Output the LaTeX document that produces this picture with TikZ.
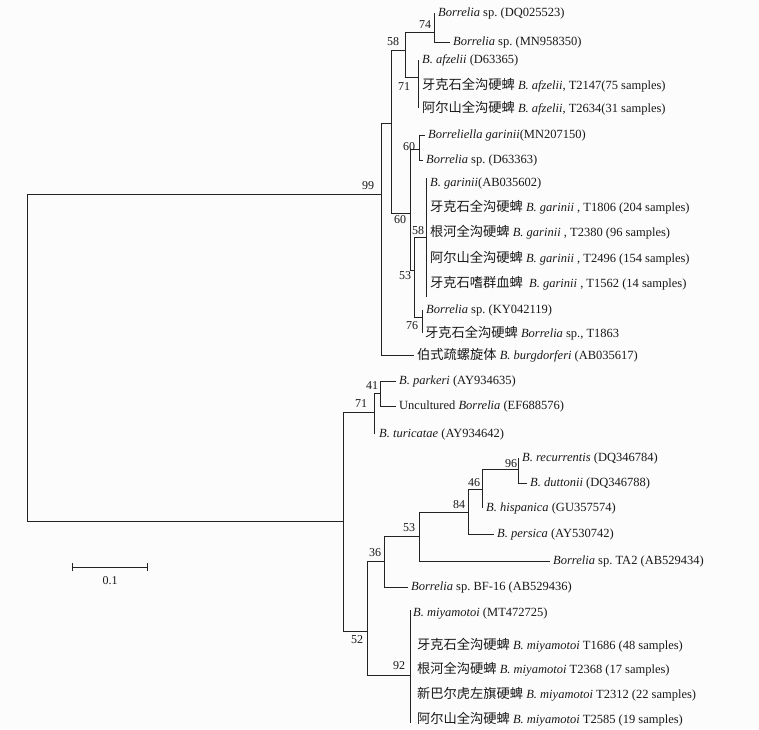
\documentclass[tikz,border=0pt]{standalone}
\usepackage{fontspec}
\setmainfont{Liberation Serif}
\newfontfamily\cjkfont{Noto Sans CJK SC}[Scale=1.06]
\newcommand\zhtext[1]{{\cjkfont #1}}
\definecolor{ln}{RGB}{35,35,35}
\definecolor{bgc}{RGB}{252,252,252}
\frenchspacing
\begin{document}
\begin{tikzpicture}[x=1pt,y=-1pt,
  br/.style={draw=ln,line width=0.85pt},
  leaf/.style={anchor=west,inner xsep=3pt,inner ysep=1pt,font=\fontsize{12.5}{14}\selectfont,text=black!90},
  leafz/.style={leaf,inner xsep=4pt},
  bs/.style={font=\fontsize{12}{14}\selectfont,inner sep=0pt,text=black!90}]
\fill[bgc] (0,0) rectangle (759,729);
\useasboundingbox (0,0) rectangle (759,729);

% internal nodes (x of vertical, y of connection to parent)
\coordinate (R) at (27,357);
\coordinate (n99) at (381,194);
\coordinate (nA) at (391,123);
\coordinate (n58a) at (405,50);
\coordinate (n74) at (434,32);
\coordinate (n71a) at (418,77);
\coordinate (n60b) at (410,213);
\coordinate (n60a) at (419,149);
\coordinate (n53a) at (414,270);
\coordinate (n58b) at (426,237);
\coordinate (n76) at (422,317);
\coordinate (nB) at (343,521);
\coordinate (n71b) at (374,412);
\coordinate (n41) at (380,393);
\coordinate (n52) at (367,631);
\coordinate (n36) at (384,561);
\coordinate (n53b) at (419,536);
\coordinate (n84) at (468,512);
\coordinate (n46) at (482,489);
\coordinate (n96) at (518,469);
\coordinate (n92) at (410,675);
\coordinate (gtop) at (426,178);
\coordinate (gbot) at (426,297);
\coordinate (mtop) at (410,610);
\coordinate (mbot) at (410,723);

% leaves
\node[leafz] (L1) at (434,13) {\textit{Borrelia} sp. (DQ025523)};
\node[leaf] (L2) at (450,42) {\textit{Borrelia} sp. (MN958350)};
\node[leafz] (L3) at (418,60) {\textit{B. afzelii} (D63365)};
\node[leafz] (L4) at (418,85) {\zhtext{牙克石全沟硬蜱} \textit{B. afzelii}, T2147(75 samples)};
\node[leafz] (L5) at (418,108) {\zhtext{阿尔山全沟硬蜱} \textit{B. afzelii}, T2634(31 samples)};
\node[leaf] (L6) at (425,135) {\textit{Borreliella garinii}(MN207150)};
\node[leaf] (L7) at (423,160) {\textit{Borrelia} sp. (D63363)};
\node[leafz] (L8) at (426,183) {\textit{B. garinii}(AB035602)};
\node[leafz] (L9) at (426,207) {\zhtext{牙克石全沟硬蜱} \textit{B. garinii} , T1806 (204 samples)};
\node[leafz] (L10) at (426,232) {\zhtext{根河全沟硬蜱} \textit{B. garinii} , T2380 (96 samples)};
\node[leafz] (L11) at (426,258) {\zhtext{阿尔山全沟硬蜱} \textit{B. garinii} , T2496 (154 samples)};
\node[leafz] (L12) at (426,283) {\zhtext{牙克石嗜群血蜱}\ \ \textit{B. garinii} , T1562 (14 samples)};
\node[leafz] (L13) at (422,310) {\textit{Borrelia} sp. (KY042119)};
\node[leafz,inner xsep=3pt] (L14) at (422,333) {\zhtext{牙克石全沟硬蜱} \textit{Borrelia} sp., T1863};
\node[leaf] (L15) at (414,355) {\zhtext{伯式疏螺旋体} \textit{B. burgdorferi} (AB035617)};
\node[leaf] (L16) at (396,381) {\textit{B. parkeri} (AY934635)};
\node[leaf] (L17) at (396,406) {Uncultured \textit{Borrelia} (EF688576)};
\node[leafz,inner xsep=5pt] (L18) at (374,434) {\textit{B. turicatae} (AY934642)};
\node[leafz] (L19) at (518,458) {\textit{B. recurrentis} (DQ346784)};
\node[leaf] (L20) at (527,483) {\textit{B. duttonii} (DQ346788)};
\node[leafz] (L21) at (482,508) {\textit{B. hispanica} (GU357574)};
\node[leaf] (L22) at (494,534) {\textit{B. persica} (AY530742)};
\node[leaf] (L23) at (550,561) {\textit{Borrelia} sp. TA2 (AB529434)};
\node[leaf] (L24) at (408,587) {\textit{Borrelia} sp. BF-16 (AB529436)};
\node[leafz,inner xsep=3pt] (L25) at (410,613) {\textit{B. miyamotoi} (MT472725)};
\node[leafz,inner xsep=7pt] (L26) at (410,645) {\zhtext{牙克石全沟硬蜱} \textit{B. miyamotoi} T1686 (48 samples)};
\node[leafz,inner xsep=7pt] (L27) at (410,669) {\zhtext{根河全沟硬蜱} \textit{B. miyamotoi} T2368 (17 samples)};
\node[leafz,inner xsep=7pt] (L28) at (410,694) {\zhtext{新巴尔虎左旗硬蜱} \textit{B. miyamotoi} T2312 (22 samples)};
\node[leafz,inner xsep=7pt] (L29) at (410,719) {\zhtext{阿尔山全沟硬蜱} \textit{B. miyamotoi} T2585 (19 samples)};

% branches
\draw[br] (R) |- (n99);
\draw[br] (R) |- (nB);
\draw[br] (n99) |- (nA);
\draw[br] (n99) |- (L15.west);
\draw[br] (nA) |- (n58a);
\draw[br] (nA) |- (n60b);
\draw[br] (n58a) |- (n74);
\draw[br] (n58a) |- (n71a);
\draw[br] (n74) |- (L1.west);
\draw[br] (n74) |- (L2.west);
\draw[br] (n71a) |- (L3.west);
\draw[br] (n71a) |- (L4.west);
\draw[br] (n71a) |- (L5.west);
\draw[br] (n60b) |- (n60a);
\draw[br] (n60b) |- (n53a);
\draw[br] (n60a) |- (L6.west);
\draw[br] (n60a) |- (L7.west);
\draw[br] (n53a) |- (n58b);
\draw[br] (n53a) |- (n76);
\draw[br] (gtop) -- (gbot);
\draw[br] (n76) |- (L13.west);
\draw[br] (n76) |- (L14.west);
\draw[br] (nB) |- (n71b);
\draw[br] (nB) |- (n52);
\draw[br] (n71b) |- (n41);
\draw[br] (n71b) |- (L18.west);
\draw[br] (n41) |- (L16.west);
\draw[br] (n41) |- (L17.west);
\draw[br] (n52) |- (n36);
\draw[br] (n52) |- (n92);
\draw[br] (n36) |- (n53b);
\draw[br] (n36) |- (L24.west);
\draw[br] (n53b) |- (n84);
\draw[br] (n53b) |- (L23.west);
\draw[br] (n84) |- (n46);
\draw[br] (n84) |- (L22.west);
\draw[br] (n46) |- (n96);
\draw[br] (n46) |- (L21.west);
\draw[br] (n96) |- (L19.west);
\draw[br] (n96) |- (L20.west);
\draw[br] (mtop) -- (mbot);

% bootstrap values
\node[bs] (b99) at (368,186) {99};
\node[bs] (b58a) at (393,42) {58};
\node[bs] (b74) at (425,25) {74};
\node[bs] (b71a) at (404,87) {71};
\node[bs] (b60a) at (409,147) {60};
\node[bs] (b60b) at (400,220) {60};
\node[bs] (b58b) at (418,231) {58};
\node[bs] (b53a) at (405,276) {53};
\node[bs] (b76) at (412,326) {76};
\node[bs] (b41) at (372,386) {41};
\node[bs] (b71b) at (361,404) {71};
\node[bs] (b96) at (511,464) {96};
\node[bs] (b46) at (474,483) {46};
\node[bs] (b84) at (459,505) {84};
\node[bs] (b53b) at (409,528) {53};
\node[bs] (b36) at (375,553) {36};
\node[bs] (b52) at (357,640) {52};
\node[bs] (b92) at (399,666) {92};

% scale bar
\coordinate (s1) at (72,567);
\coordinate (s2) at (147,567);
\draw[br] (s1) -- (s2);
\draw[br] ([yshift=-4pt]s1) -- ([yshift=4pt]s1);
\draw[br] ([yshift=-4pt]s2) -- ([yshift=4pt]s2);
\node[bs] (sc) at (110,581) {0.1};
\end{tikzpicture}
\end{document}
